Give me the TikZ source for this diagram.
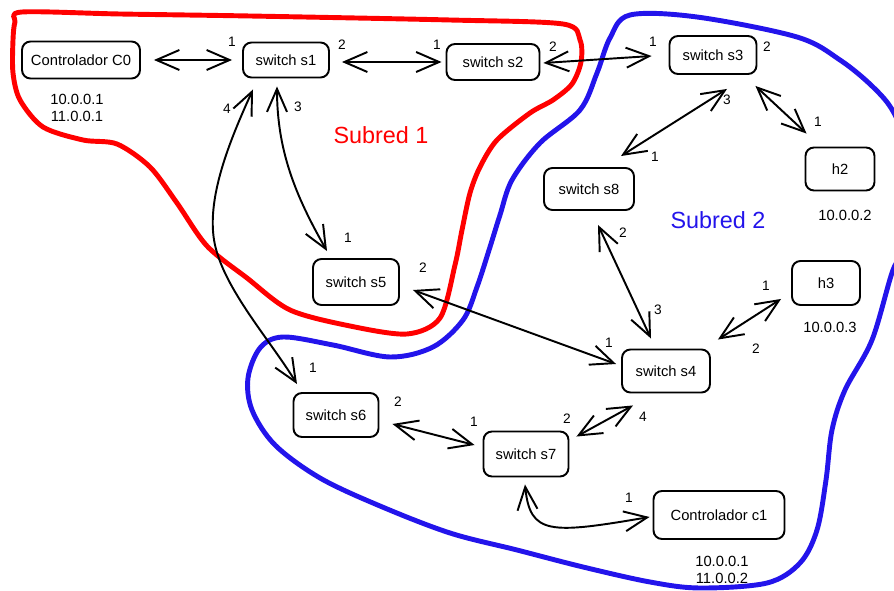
\documentclass[tikz,border=0pt]{standalone}
\usepackage{fontspec}
\setmainfont{Liberation Sans}
\usetikzlibrary{arrows.meta}
\definecolor{netred}{RGB}{255,0,0}
\definecolor{netblue}{RGB}{35,20,235}
\begin{document}
\begin{tikzpicture}[x=0.02cm,y=-0.02cm,
  box/.style={draw, line width=1.1pt, rounded corners=0.17cm, inner sep=0pt,
    font=\fontsize{8.4}{10}\selectfont},
  port/.style={font=\fontsize{7.8}{9}\selectfont, inner sep=0pt},
  ip/.style={font=\fontsize{8.4}{9.6}\selectfont, align=center, inner sep=0pt},
  zone/.style={line width=2.8pt, line cap=round, line join=round},
  conn/.style={{Straight Barb[length=0.46cm,width=0.4cm]}-{Straight Barb[length=0.46cm,width=0.4cm]},
    line width=1.1pt, line cap=round, line join=round}]
\useasboundingbox (0,0) rectangle (894,591);
\clip (0,0) rectangle (894,591);

% subnet outlines
\draw[zone, netred] plot[smooth cycle, tension=0.5] coordinates {
  (22,12) (120,14) (250,16) (450,20) (563,24) (580,40) (581,62) (572,84) (553,100)
  (530,113) (497,140) (480,167) (470,193) (462,230) (455,265) (440,318)
  (407,334) (350,326) (290,310) (247,278) (207,246) (177,203) (150,167)
  (117,144) (83,140) (43,127) (20,100) (13,73) (13,40) (15,22)};
\draw[zone, netblue] plot[smooth cycle, tension=0.55] coordinates {
  (630,15) (697,17) (797,37) (840,60) (873,87) (894,113) (912,160)
  (916,210) (906,250) (893,270) (872,340) (845,390) (832,430) (826,480)
  (817,530) (800,563) (767,583) (700,588) (650,582) (583,567) (517,550)
  (450,533) (380,506) (320,478) (275,445) (252,410) (248,378) (260,348)
  (283,337) (333,345) (390,357) (433,347) (463,320) (477,287) (490,247)
  (500,215) (512,180) (540,143) (580,110) (597,73) (610,38)};

\node[text=netred, font=\fontsize{13.3}{15}\selectfont] (sub1) at (381,135) {Subred 1};
\node[text=netblue, font=\fontsize{13.3}{15}\selectfont] (sub2) at (718,220) {Subred 2};

% nodes
\node[box, minimum width=2.36cm, minimum height=0.74cm] (c0) at (81,60) {Controlador C0};
\node[box, minimum width=1.72cm, minimum height=0.70cm] (s1) at (286,60) {switch s1};
\node[box, minimum width=1.86cm, minimum height=0.72cm] (s2) at (493,62) {switch s2};
\node[box, minimum width=1.74cm, minimum height=0.76cm] (s3) at (713,55) {switch s3};
\node[box, minimum width=1.38cm, minimum height=0.86cm] (h2) at (840,169) {h2};
\node[box, minimum width=1.80cm, minimum height=0.84cm] (s8) at (589,189) {switch s8};
\node[box, minimum width=1.72cm, minimum height=0.92cm] (s5) at (356,282) {switch s5};
\node[box, minimum width=1.36cm, minimum height=0.88cm] (h3) at (826,283) {h3};
\node[box, minimum width=1.76cm, minimum height=0.86cm] (s4) at (666,371) {switch s4};
\node[box, minimum width=1.70cm, minimum height=0.88cm] (s6) at (336,415) {switch s6};
\node[box, minimum width=1.70cm, minimum height=0.90cm] (s7) at (526,454) {switch s7};
\node[box, minimum width=2.62cm, minimum height=0.96cm] (c1) at (719,515) {Controlador c1};

% addresses
\node[ip] (ipc0) at (77,108) {10.0.0.1\\11.0.0.1};
\node[ip] (iph2) at (845,215) {10.0.0.2};
\node[ip] (iph3) at (830,327) {10.0.0.3};
\node[ip] (ipc1) at (722,570) {10.0.0.1\\11.0.0.2};

% links
\draw[conn] ([shift={(13,0)}]c0.east) -- ([shift={(-10,0)}]s1.west);
\draw[conn] ([shift={(12,2)}]s1.east) -- ([shift={(-4,0)}]s2.west);
\draw[conn] ([shift={(3,1)}]s2.east) -- ([shift={(-17,1)}]s3.west);
\draw[conn] ([shift={(14,14)}]s3.south) -- ([shift={(32,-11)}]s8.north);
\draw[conn] ([shift={(-2,11)}]s3.south east) -- ([shift={(2,-13)}]h2.north west);
\draw[conn] ([shift={(-9,8)}]s1.south) .. controls (277,150) and (295,195) .. ([shift={(-29,-7)}]s5.north);
\draw[conn] ([shift={(-33,11)}]s1.south) .. controls (230,140) and (205,200) .. (215,245)
  .. controls (225,290) and (270,340) .. ([shift={(-39,-8)}]s6.north);
\draw[conn] ([shift={(13,8)}]s5.east) -- ([shift={(-5,-7)}]s4.west);
\draw[conn] ([shift={(9,14)}]s8.south) -- ([shift={(-15,-10)}]s4.north);
\draw[conn] ([shift={(-10,-7)}]h3.south west) -- ([shift={(7,-9)}]s4.north east);
\draw[conn] ([shift={(13,9)}]s6.east) -- ([shift={(-8,-9)}]s7.west);
\draw[conn] ([shift={(7,6)}]s7.north east) -- ([shift={(-33,12)}]s4.south);
\draw[conn] ([shift={(-1,7)}]s7.south) .. controls (530,535) and (550,534) .. ([shift={(-3,2)}]c1.west);

% port numbers
\node[port] (p1) at (232,42) {1};
\node[port] (p2) at (342,45) {2};
\node[port] (p3) at (437,45) {1};
\node[port] (p4) at (553,47) {2};
\node[port] (p5) at (653,42) {1};
\node[port] (p6) at (767,47) {2};
\node[port] (p7) at (227,109) {4};
\node[port] (p8) at (298,107) {3};
\node[port] (p9) at (727,100) {3};
\node[port] (p10) at (818,122) {1};
\node[port] (p11) at (655,157) {1};
\node[port] (p12) at (348,238) {1};
\node[port] (p13) at (423,268) {2};
\node[port] (p14) at (623,233) {2};
\node[port] (p15) at (658,310) {3};
\node[port] (p16) at (609,343) {1};
\node[port] (p17) at (766,286) {1};
\node[port] (p18) at (756,349) {2};
\node[port] (p19) at (313,368) {1};
\node[port] (p20) at (398,402) {2};
\node[port] (p21) at (474,422) {1};
\node[port] (p22) at (567,419) {2};
\node[port] (p23) at (643,417) {4};
\node[port] (p24) at (629,498) {1};
\end{tikzpicture}
\end{document}
